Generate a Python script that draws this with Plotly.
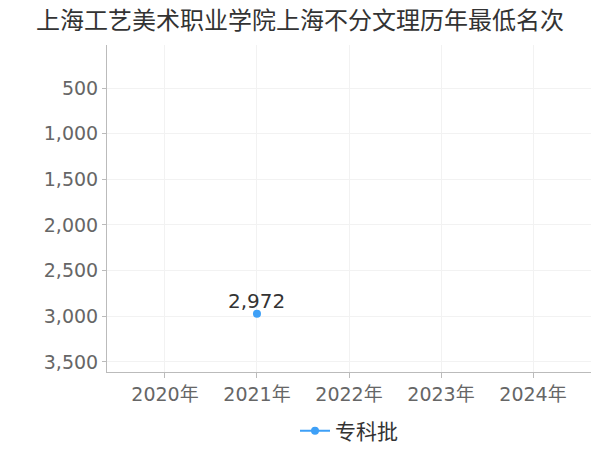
import plotly.graph_objects as go

years = ['2020年', '2021年', '2022年', '2023年', '2024年']
rank_zk = [None, 2972, None, None, None]
series_name = '专科批'
title = '上海工艺美术职业学院上海不分文理历年最低名次'

font_cjk = 'Noto Sans CJK SC'
font_num = 'DejaVu Sans, Noto Sans CJK SC'

fig = go.Figure()
fig.add_trace(go.Scatter(
    x=years, y=rank_zk, name=series_name,
    mode='lines+markers',
    marker=dict(size=8, color='#3ea0f7'),
    line=dict(color='#3ea0f7', width=2),
    cliponaxis=False,
))

# value labels just above each point
for yr, v in zip(years, rank_zk):
    if v is None:
        continue
    fig.add_annotation(x=yr, y=v, text=f'{v:,}', showarrow=False,
                       yshift=13, yanchor='middle',
                       font=dict(size=20, color='#333333', family=font_num))

# the page keeps an 8px body margin, so the figure is 8px smaller each way
fig.update_layout(
    width=592, height=442,
    paper_bgcolor='white', plot_bgcolor='white',
    margin=dict(l=99, r=9, t=37, b=78),
    font=dict(family=font_cjk, color='#666666'),
    title=dict(text=title, x=0.4932, xanchor='center', y=0.99, yanchor='top',
               font=dict(size=24, color='#333333', family=font_cjk)),
    showlegend=True,
    legend=dict(orientation='h', x=0.5, xanchor='center',
                yref='container', y=0.043, yanchor='middle',
                font=dict(size=21, color='#333333', family=font_cjk)),
)
fig.update_xaxes(
    type='category', categoryorder='array', categoryarray=years,
    range=[-0.63, 4.63], automargin=False,
    showline=True, linecolor='#bbbbbb', linewidth=1,
    showgrid=True, gridcolor='#f2f2f2',
    ticks='outside', ticklen=5, tickcolor='#bbbbbb',
    tickfont=dict(size=19, color='#666666', family=font_num),
)
fig.update_yaxes(
    autorange=False, range=[3610, 29], automargin=False,
    tickvals=[500, 1000, 1500, 2000, 2500, 3000, 3500],
    tickformat=',d',
    showline=True, linecolor='#bbbbbb', linewidth=1,
    showgrid=True, gridcolor='#f2f2f2', zeroline=False,
    ticks='outside', ticklen=4, tickcolor='#bbbbbb',
    tickfont=dict(size=19, color='#666666', family=font_num),
)

fig.write_html("out.html", config={'displayModeBar': False})
